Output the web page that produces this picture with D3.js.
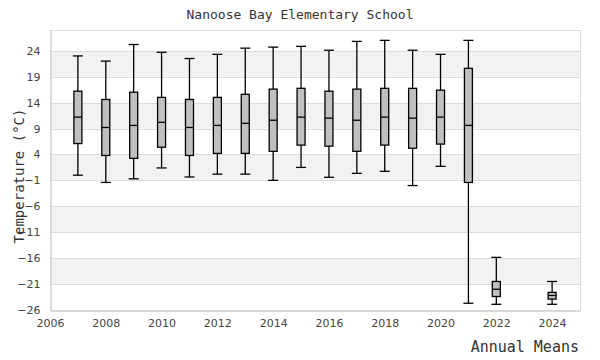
<!DOCTYPE html>
<html><head><meta charset="utf-8">
<script src="https://cdn.jsdelivr.net/npm/d3@7"></script>
<style>body{margin:0;background:#fff}</style>
</head><body>
<svg id="c" width="600" height="360"></svg>
<script>
const years   = [2007,2008,2009,2010,2011,2012,2013,2014,2015,2016,2017,2018,2019,2020,2021,2022,2024];
const whiskLo = [0.0,-1.4,-0.7,1.4,-0.35,0.2,0.2,-1.0,1.5,-0.4,0.35,0.75,-2.0,1.7,-24.7,-24.9,-24.9];
const q1      = [6.1,3.8,3.25,5.4,3.8,4.2,4.2,4.6,5.8,5.6,4.6,5.8,5.2,6.0,-1.4,-23.4,-23.9];
const median  = [11.2,9.2,9.6,10.2,9.2,9.6,10.0,10.6,11.2,11.0,10.6,11.2,11.0,11.2,9.6,-22.0,-23.2];
const q3      = [16.2,14.6,16.0,15.0,14.6,15.0,15.6,16.6,16.75,16.2,16.6,16.75,16.75,16.4,20.6,-20.5,-22.6];
const whiskHi = [23.0,22.0,25.2,23.7,22.5,23.3,24.5,24.7,24.85,24.1,25.8,26.0,24.1,23.3,26.0,-15.85,-20.5];
const yTicks  = [24,19,14,9,4,-1,-6,-11,-16,-21,-26];
const xTicks  = [2006,2008,2010,2012,2014,2016,2018,2020,2022,2024];

const svg = d3.select("#c");
const L=50,R=580,T=30,B=310;
const x = d3.scaleLinear().domain([2006,2025]).range([L,R]);
const y = d3.scaleLinear().domain([-26,28]).range([B,T]);

// bands
const bands = [];
for (let i=0;i<yTicks.length-1;i++) if (i%2===0) bands.push([yTicks[i],yTicks[i+1]]);
svg.selectAll("rect.band").data(bands).enter().append("rect")
  .attr("x",L).attr("width",R-L)
  .attr("y",d=>y(d[0])).attr("height",d=>y(d[1])-y(d[0]))
  .attr("fill","#f2f2f2");
// grid
svg.selectAll("line.grid").data(yTicks).enter().append("line")
  .attr("x1",L).attr("x2",R).attr("y1",d=>Math.round(y(d))+0.5).attr("y2",d=>Math.round(y(d))+0.5)
  .attr("stroke","#dcdcdc").attr("stroke-width",1);
// border
svg.append("line").attr("x1",L).attr("x2",R).attr("y1",T+0.5).attr("y2",T+0.5).attr("stroke","#dcdcdc");
svg.append("line").attr("x1",R+0.5).attr("x2",R+0.5).attr("y1",T).attr("y2",B).attr("stroke","#dcdcdc");

// axes
const yAxis = svg.append("g").attr("transform",`translate(${L+0.5},0)`)
  .call(d3.axisLeft(y).tickValues(yTicks).tickSize(0).tickPadding(10).tickFormat(d3.format("d")));
yAxis.select(".domain").attr("stroke","#d0d0d0").attr("stroke-width",1.5);
yAxis.selectAll("text").attr("fill","#444").style("font-family","DejaVu Sans").style("font-size","11px");
const xAxis = svg.append("g").attr("transform",`translate(0,${B+0.5})`)
  .call(d3.axisBottom(x).tickValues(xTicks).tickSize(0).tickPadding(9).tickFormat(d3.format("d")));
xAxis.select(".domain").attr("stroke","#d0d0d0").attr("stroke-width",1.5);
xAxis.selectAll("text").attr("fill","#444").style("font-family","DejaVu Sans").style("font-size","11px");

// boxes
const data = years.map((yr,i)=>({yr,lo:whiskLo[i],q1:q1[i],md:median[i],q3:q3[i],hi:whiskHi[i]}));
const bw=8, cw=8;
const g = svg.append("g").selectAll("g").data(data).enter().append("g");
g.append("line").attr("x1",d=>x(d.yr)).attr("x2",d=>x(d.yr)).attr("y1",d=>y(d.hi)).attr("y2",d=>y(d.lo))
  .attr("stroke","#000").attr("stroke-width",1.3);
g.append("line").attr("x1",d=>x(d.yr)-cw/2-1).attr("x2",d=>x(d.yr)+cw/2+1).attr("y1",d=>y(d.hi)).attr("y2",d=>y(d.hi))
  .attr("stroke","#000").attr("stroke-width",1.3);
g.append("line").attr("x1",d=>x(d.yr)-cw/2-1).attr("x2",d=>x(d.yr)+cw/2+1).attr("y1",d=>y(d.lo)).attr("y2",d=>y(d.lo))
  .attr("stroke","#000").attr("stroke-width",1.3);
g.append("rect").attr("x",d=>x(d.yr)-bw/2).attr("width",bw)
  .attr("y",d=>y(d.q3)).attr("height",d=>y(d.q1)-y(d.q3))
  .attr("fill","#c0c0c0").attr("stroke","#000").attr("stroke-width",1.3);
g.append("line").attr("x1",d=>x(d.yr)-bw/2).attr("x2",d=>x(d.yr)+bw/2).attr("y1",d=>y(d.md)).attr("y2",d=>y(d.md))
  .attr("stroke","#000").attr("stroke-width",1.3);

// titles
svg.append("text").attr("x",300).attr("y",19).attr("text-anchor","middle")
  .style("font-family","DejaVu Sans Mono").style("font-size","13px").attr("fill","#333")
  .text("Nanoose Bay Elementary School");
svg.append("text").attr("x",579).attr("y",352).attr("text-anchor","end")
  .style("font-family","DejaVu Sans Mono").style("font-size","15px").attr("fill","#333")
  .text("Annual Means");
svg.append("text").attr("transform","translate(24,176) rotate(-90)").attr("text-anchor","middle")
  .style("font-family","DejaVu Sans Mono").style("font-size","14px").attr("fill","#333")
  .text("Temperature (°C)");
</script>
</body></html>
